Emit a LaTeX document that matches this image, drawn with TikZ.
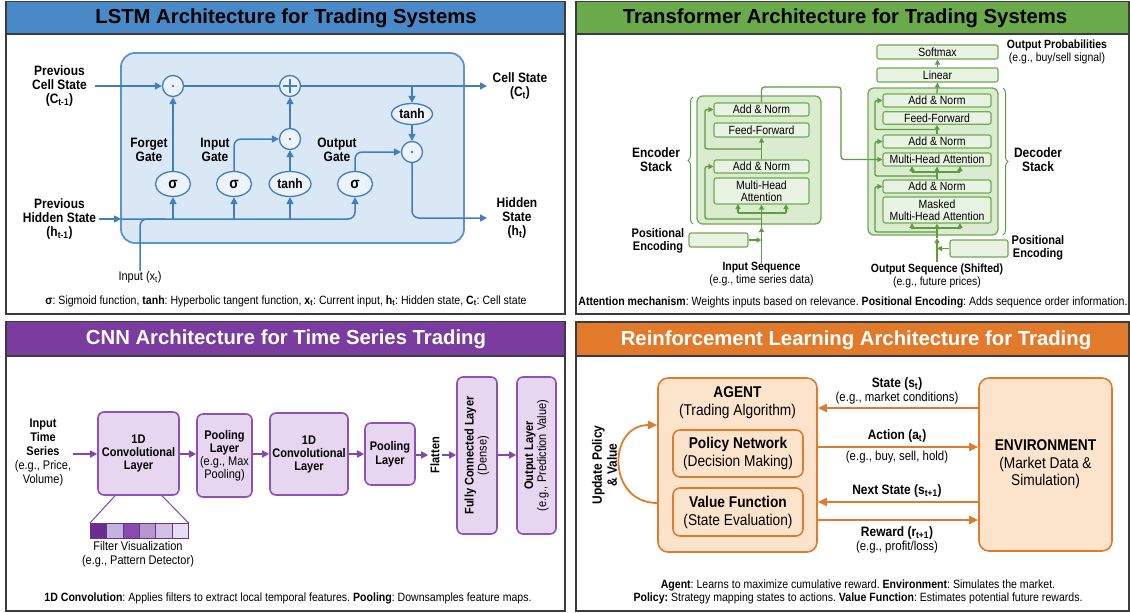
\documentclass[tikz,border=0pt]{standalone}
\usepackage{fontspec}
\setmainfont{Liberation Sans}[FakeStretch=0.88]
\newfontfamily\titlefont{Liberation Sans}
\usetikzlibrary{arrows.meta,decorations.pathreplacing,shapes.geometric,calc}
\definecolor{panelborder}{HTML}{3C3C3C}
\definecolor{lbtitle}{HTML}{4A89C8}
\definecolor{lbline}{HTML}{3F7EC0}
\definecolor{lbfill}{HTML}{DAE8F6}
\definecolor{lbedge}{HTML}{5B95D0}
\definecolor{tgtitle}{HTML}{6BAA4B}
\definecolor{tgline}{HTML}{5E9C40}
\definecolor{tgfill}{HTML}{DAEBD0}
\definecolor{tgedge}{HTML}{70AA52}
\definecolor{cptitle}{HTML}{7A3C9E}
\definecolor{cpline}{HTML}{8545AC}
\definecolor{cpfill}{HTML}{E6D6F0}
\definecolor{cpedge}{HTML}{8E52B4}
\definecolor{ortitle}{HTML}{E27A2C}
\definecolor{orline}{HTML}{E07B2C}
\definecolor{orfill}{HTML}{FCE3CC}
\definecolor{fa}{HTML}{6B2D93}
\definecolor{fb}{HTML}{C4B2E2}
\definecolor{fc}{HTML}{8A4BB0}
\definecolor{fd}{HTML}{B796D0}
\definecolor{fe}{HTML}{D3C0E8}
\definecolor{ff}{HTML}{E8DDF3}
\newcommand\fsz[2]{\fontsize{#1}{#2}\selectfont}
\frenchspacing
\begin{document}
\begin{tikzpicture}[x=1pt,y=-1pt,
  txt/.style={inner sep=0pt, align=center},
  panel/.style={draw=panelborder, line width=1.4pt},
  ptitle/.style={inner sep=0pt, font=\titlefont\fsz{20.3}{24}\bfseries},
  foot/.style={txt, font=\fsz{12}{13}},
  % LSTM
  lline/.style={draw=lbline, line width=1.5pt},
  larr/.style={lline, -{Triangle[length=7pt,width=7pt]}},
  lop/.style={circle, draw=lbline, line width=1.3pt, fill=lbfill!50!white, minimum size=21pt, inner sep=0pt},
  lell/.style={ellipse, draw=lbline, line width=1.3pt, fill=lbfill!50!white, minimum height=25pt, inner sep=0pt},
  llab/.style={txt, font=\fsz{13.6}{14}\bfseries},
  % Transformer
  tline/.style={draw=tgline, line width=1.3pt},
  tarr/.style={tline, -{Triangle[length=5pt,width=5pt]}},
  tb/.style={draw=tgedge, fill=tgfill!60!white, line width=1.1pt, rounded corners=2pt, inner sep=0pt, align=center, font=\fsz{11.9}{12}},
  tout/.style={draw=tgedge, fill=tgfill, line width=1.3pt, rounded corners=6pt, inner sep=0pt},
  tlab/.style={txt, font=\fsz{11.9}{13}},
  % CNN
  cline/.style={draw=cpline, line width=1.5pt},
  carr/.style={cline, -{Triangle[length=7pt,width=7pt]}},
  cb/.style={draw=cpedge, fill=cpfill, line width=1.6pt, rounded corners=6pt, inner sep=0pt, align=center, font=\fsz{12.5}{13}},
  clab/.style={txt, font=\fsz{12.5}{14}},
  % RL
  oline/.style={draw=orline, line width=1.8pt},
  oarr/.style={oline, -{Triangle[length=9pt,width=8pt]}},
  ob/.style={draw=orline, fill=orfill, line width=1.6pt, rounded corners=10pt, inner sep=0pt, align=center, font=\fsz{15.6}{18}},
  olab/.style={txt, font=\fsz{13}{14}},
]
\useasboundingbox (0,0) rectangle (1130,613);
\fill[white] (0,0) rectangle (1130,613);

% ================= panels =================
\fill[lbtitle] (6,1.5) rectangle (565,34);
\draw[panel] (6,1.5) rectangle (565,314);
\draw[panel] (6,34) -- (565,34);
\node[ptitle] (t1) at (286,18) {LSTM Architecture for Trading Systems};

\fill[tgtitle] (576,1.5) rectangle (1129,34);
\draw[panel] (576,1.5) rectangle (1129,314);
\draw[panel] (576,34) -- (1129,34);
\node[ptitle] (t2) at (845,18) {Transformer Architecture for Trading Systems};

\fill[cptitle] (6,321.5) rectangle (565,356);
\draw[panel] (6,321.5) rectangle (565,611);
\draw[panel] (6,356) -- (565,356);
\node[ptitle, text=white] (t3) at (286,339.5) {CNN Architecture for Time Series Trading};

\fill[ortitle] (576,322) rectangle (1129,356);
\draw[panel] (576,322) rectangle (1129,611);
\draw[panel] (576,356) -- (1129,356);
\node[ptitle, text=white] (t4) at (856,340) {Reinforcement Learning Architecture for Trading};

% ================= LSTM =================
\node[draw=lbedge, fill=lbfill, line width=1.8pt, rounded corners=14pt, minimum width=343pt, minimum height=190pt, inner sep=0pt] (cell) at (292.5,148) {};

\node[lop] (m1) at (173,86) {};
\node[lop] (add) at (290,86) {};
\node[lop] (m2) at (290,139) {};
\node[lop] (m3) at (412,152) {};
\node[lell, minimum width=35pt, font=\fsz{15.5}{15}\bfseries] (sf) at (173,184) {σ};
\node[lell, minimum width=35pt, font=\fsz{15.5}{15}\bfseries] (si) at (234,184) {σ};
\node[lell, minimum width=42pt, font=\fsz{13.6}{14}\bfseries] (th1) at (290,184) {tanh};
\node[lell, minimum width=35pt, font=\fsz{15.5}{15}\bfseries] (so) at (355,184) {σ};
\node[lell, minimum width=41pt, minimum height=21pt, font=\fsz{13.6}{14}\bfseries] (th2) at (412,114) {tanh};

\coordinate (cin) at (95,86);
\coordinate (cout) at (487,86);
\coordinate (tap) at (412,86);
\coordinate (hin) at (99,219);
\coordinate (hjoin) at (121,219);
\coordinate (hout) at (487,218);

\draw[larr] (cin) -- (m1);
\draw[lline] (m1) -- (add);
\draw[larr] (add) -- (cout);
\draw[larr] (tap) -- (th2.north);
\draw[larr] (th2.south) -- (m3.north);
\draw[larr, rounded corners=7pt] (m3.south) -- (412,218) -- (hout);
\draw[larr] (sf.north) -- (m1.south);
\draw[larr, rounded corners=7pt] (si.north) -- (234,139) -- (m2.west);
\draw[larr] (th1.north) -- (m2.south);
\draw[larr] (m2.north) -- (add.south);
\draw[larr, rounded corners=7pt] (so.north) -- (355,152) -- (m3.west);
\draw[larr] (hin) -- (hjoin);
\draw[larr, rounded corners=7pt] (hjoin) -- (so.south |- hjoin) -- (so.south);
\draw[larr] (sf.south |- hjoin) -- (sf.south);
\draw[larr] (si.south |- hjoin) -- (si.south);
\draw[larr] (th1.south |- hjoin) -- (th1.south);
\node[txt, font=\fsz{12.5}{13}] (xlbl) at (140,277) {Input (x\textsubscript{t})};
\draw[lline, rounded corners=7pt] (xlbl.north) -- (140,219) -- (165,219);

\fill[lbline] (m1) circle (1.3pt);
\fill[lbline] (m2) circle (1.3pt);
\fill[lbline] (m3) circle (1.3pt);
\draw[lline, line width=1.3pt] ($(add)+(-7,0)$) -- ($(add)+(7,0)$);
\draw[lline, line width=1.3pt] ($(add)+(0,-7)$) -- ($(add)+(0,7)$);

\node[llab] (lpc) at (59.5,86) {Previous\\Cell State\\(C\textsubscript{t-1})};
\node[llab] (lph) at (59.5,219) {Previous\\Hidden State\\(h\textsubscript{t-1})};
\node[llab] (lcs) at (520,86) {Cell State\\(C\textsubscript{t})};
\node[llab] (lhs) at (517,218) {Hidden\\State\\(h\textsubscript{t})};
\node[llab] (lfg) at (149,150) {Forget\\Gate};
\node[llab] (lig) at (215,150) {Input\\Gate};
\node[llab] (log) at (337,150) {Output\\Gate};
\node[foot] (lfoot) at (286,301) {\textbf{σ}: Sigmoid function, \textbf{tanh}: Hyperbolic tangent function, \textbf{x\textsubscript{t}}: Current input, \textbf{h\textsubscript{t}}: Hidden state, \textbf{C\textsubscript{t}}: Cell state};

% ================= Transformer =================
% Encoder
\node[tout, minimum width=124pt, minimum height=128pt] (encbox) at (759,160) {};
\node[tb, minimum width=95pt, minimum height=13pt] (eAN1) at (761.5,109.5) {Add \& Norm};
\node[tb, minimum width=95pt, minimum height=14pt] (eFF) at (761.5,130) {Feed-Forward};
\node[tb, minimum width=95pt, minimum height=13pt] (eAN2) at (761.5,166.5) {Add \& Norm};
\node[tb, minimum width=95pt, minimum height=26pt] (eMHA) at (761.5,191) {Multi-Head\\Attention};
\node[tb, minimum width=59pt, minimum height=14pt] (ePE) at (718.5,240) {};
\coordinate (ein) at (761.5,263);

\draw[tarr] (ein) -- (761.5,227);
\draw[tline] (761.5,227) -- (761.5,213);
\draw[tline] (738,213) -- (786,213);
\draw[tarr] (738,213) -- (738,204);
\draw[tarr] (761.5,213) -- (eMHA.south);
\draw[tarr] (786,213) -- (786,204);
\draw[tarr, rounded corners=2pt] (761.5,219) -- (705,219) -- (705,166.5) -- (eAN2.west);
\draw[tarr] (eAN2.north) -- (eFF.south);
\draw[tarr, rounded corners=2pt] (761.5,149) -- (705,149) -- (705,109.5) -- (eAN1.west);
\draw[tarr] (ePE.east) -- (761.5,240);
\draw[tline, line width=1pt, decorate, decoration={brace, amplitude=5pt}] (693,224) -- (693,97);

% Decoder
\node[tb, minimum width=121pt, minimum height=14pt] (dSoft) at (937.5,52) {Softmax};
\node[tb, minimum width=121pt, minimum height=14pt] (dLin) at (937.5,75) {Linear};
\node[tout, minimum width=130pt, minimum height=147pt] (decbox) at (933,161.5) {};
\node[tb, minimum width=108pt, minimum height=13pt] (dAN1) at (937,100.5) {Add \& Norm};
\node[tb, minimum width=108pt, minimum height=12.5pt] (dFF) at (937,118) {Feed-Forward};
\node[tb, minimum width=108pt, minimum height=13pt] (dAN2) at (937,141.5) {Add \& Norm};
\node[tb, minimum width=108pt, minimum height=13pt] (dMHA) at (937,159.5) {Multi-Head Attention};
\node[tb, minimum width=108pt, minimum height=13pt] (dAN3) at (937,186.5) {Add \& Norm};
\node[tb, minimum width=108pt, minimum height=26pt] (dMMHA) at (937,210) {Masked\\Multi-Head Attention};
\node[tb, minimum width=58pt, minimum height=17pt] (dPE) at (979,248.5) {};
\coordinate (din) at (937,262);

\draw[tarr] (din) -- (937,238);
\draw[tline] (937,238) -- (937,228);
\draw[tline] (912,228) -- (960,228);
\draw[tarr] (912,228) -- (912,223);
\draw[tarr] (937,228) -- (dMMHA.south);
\draw[tarr] (960,228) -- (960,223);
\draw[tarr] (dPE.west) -- (937,248.5);
\draw[tarr, rounded corners=2pt] (937,232) -- (875,232) -- (875,186.5) -- (dAN3.west);
\draw[tline] (dAN3.north) -- (937,172);
\draw[tline] (912,172) -- (960,172);
\draw[tarr] (912,172) -- (912,166);
\draw[tarr] (937,172) -- (dMHA.south);
\draw[tarr] (960,172) -- (960,166);
\draw[tarr, rounded corners=2pt] (937,176) -- (875,176) -- (875,141.5) -- (dAN2.west);
\draw[tarr] (dAN2.north) -- (dFF.south);
\draw[tarr, rounded corners=2pt] (937,129.5) -- (875,129.5) -- (875,100.5) -- (dAN1.west);
\draw[tarr] (dAN1.north) -- (dLin.south);
\draw[tarr] (dLin.north) -- (dSoft.south);
\draw[tarr, rounded corners=3pt] (eAN1.north) -- (761.5,87) -- (841,87) -- (841,159.5) -- (dMHA.west);
\draw[tline, line width=1pt, decorate, decoration={brace, amplitude=5pt}] (1003,88) -- (1003,235);

\node[txt, font=\fsz{13.6}{14}\bfseries] (lenc) at (656,160) {Encoder\\Stack};
\node[txt, font=\fsz{12.5}{13}\bfseries] (lpe1) at (658,240.5) {Positional\\Encoding};
\node[txt, font=\fsz{13.6}{14}\bfseries] (ldec) at (1038,160) {Decoder\\Stack};
\node[txt, font=\fsz{12.5}{13}\bfseries] (lpe2) at (1038,247.5) {Positional\\Encoding};
\node[tlab] (lin) at (761.5,274.5) {\textbf{Input Sequence}\\(e.g., time series data)};
\node[tlab] (lout) at (937,276) {\textbf{Output Sequence (Shifted)}\\(e.g., future prices)};
\node[tlab] (lprob) at (1057,52) {\textbf{Output Probabilities}\\(e.g., buy/sell signal)};
\node[foot] (tfoot) at (853,302) {\textbf{Attention mechanism}: Weights inputs based on relevance. \textbf{Positional Encoding}: Adds sequence order information.};

% ================= CNN =================
\node[cb, minimum width=81pt, minimum height=83pt, font=\fsz{12.5}{13}\bfseries] (conv1) at (138.5,453.5) {1D\\Convolutional\\Layer};
\node[cb, minimum width=55pt, minimum height=83pt] (pool1) at (224.5,455.5) {\textbf{Pooling}\\\textbf{Layer}\\(e.g., Max\\Pooling)};
\node[cb, minimum width=78pt, minimum height=82pt, font=\fsz{12.5}{13}\bfseries] (conv2) at (309,454) {1D\\Convolutional\\Layer};
\node[cb, minimum width=50pt, minimum height=62pt, font=\fsz{12.5}{14}\bfseries] (pool2) at (390,454) {Pooling\\Layer};
\node[cb, minimum width=40pt, minimum height=157pt] (fcl) at (477,455.5) {};
\node[txt, rotate=90, font=\fsz{12.5}{13}] (fctxt) at (fcl.center) {\textbf{Fully Connected Layer}\\(Dense)};
\node[cb, minimum width=39pt, minimum height=157pt] (outl) at (536.5,455.5) {};
\node[txt, rotate=90, font=\fsz{12.5}{13}] (outtxt) at (outl.center) {\textbf{Output Layer}\\(e.g., Prediction Value)};
\node[txt, rotate=90, inner sep=2pt, font=\fsz{12.5}{13}\bfseries] (flat) at (435,455) {Flatten};
\node[clab] (lints) at (43,452.5) {\textbf{Input}\\\textbf{Time}\\\textbf{Series}\\(e.g., Price,\\Volume)};
\coordinate (cin2) at (73,454);
\draw[carr] (cin2) -- (conv1.west |- cin2);
\draw[carr] (conv1.east |- cin2) -- (pool1.west |- cin2);
\draw[carr] (pool1.east |- cin2) -- (conv2.west |- cin2);
\draw[carr] (conv2.east |- cin2) -- (pool2.west |- cin2);
\draw[carr] (pool2.east |- 0,455) -- (flat.north);
\draw[carr] (flat.south) -- (fcl.west |- 0,455);
\draw[carr] (fcl.east |- 0,455) -- (outl.west |- 0,455);

% filter visualization
\foreach \c [count=\i from 0] in {fa,fb,fc,fd,fe,ff} {
  \node[draw=cpedge!70!black, line width=0.6pt, fill=\c, minimum width=16.33pt, minimum height=15pt, inner sep=0pt, anchor=north west] (fcell\i) at (90+16.33*\i,523) {};
}
\draw[cpline, line width=1pt] ($(conv1.south)+(-23.5,0)$) -- (fcell0.north west);
\draw[cpline, line width=1pt] ($(conv1.south)+(23.5,0)$) -- (fcell5.north east);
\node[clab, font=\fsz{12.5}{13.5}] (lfilt) at (138,554.5) {Filter Visualization\\(e.g., Pattern Detector)};
\node[foot] (cfoot) at (288,598) {\textbf{1D Convolution}: Applies filters to extract local temporal features. \textbf{Pooling}: Downsamples feature maps.};

% ================= RL =================
\node[ob, minimum width=159pt, minimum height=174pt] (agent) at (737.5,465) {};
\node[txt, font=\fsz{15.6}{18}] (agtxt) at (737.5,403) {\textbf{AGENT}\\(Trading Algorithm)};
\node[ob, rounded corners=7pt, minimum width=130pt, minimum height=47pt] (policy) at (738,453.5) {\textbf{Policy Network}\\(Decision Making)};
\node[ob, rounded corners=7pt, minimum width=130pt, minimum height=48pt] (value) at (738,512) {\textbf{Value Function}\\(State Evaluation)};
\node[ob, minimum width=133pt, minimum height=173pt, font=\fsz{15.6}{17.5}] (env) at (1045.5,464.5) {\textbf{ENVIRONMENT}\\(Market Data \&\\Simulation)};

\draw[oarr] (env.west |- 0,408) -- (agent.east |- 0,408);
\draw[oarr] (agent.east |- 0,447) -- (env.west |- 0,447);
\draw[oarr] (env.west |- 0,502) -- (agent.east |- 0,502);
\draw[oarr] (agent.east |- 0,520) -- (env.west |- 0,520);
\draw[oarr] (agent.west |- 0,503) .. controls (607,503) and (607,425) .. (agent.west |- 0,425);

\node[olab] (lst) at (897,390.5) {\textbf{\fsz{13.6}{14}State (s\textsubscript{t})}\\(e.g., market conditions)};
\node[olab] (lact) at (897,436) {\textbf{\fsz{13.6}{14}Action (a\textsubscript{t})}};
\node[olab] (lact2) at (897,457) {(e.g., buy, sell, hold)};
\node[olab] (lnx) at (897,491) {\textbf{\fsz{13.6}{14}Next State (s\textsubscript{t+1})}};
\node[olab] (lrw) at (897,539.5) {\textbf{\fsz{13.6}{14}Reward (r\textsubscript{t+1})}\\(e.g., profit/loss)};
\node[txt, rotate=90, font=\fsz{13.6}{15}\bfseries] (lupd) at (604.5,465) {Update Policy\\\& Value};
\node[foot] (rfoot) at (858,591.5) {\textbf{Agent}: Learns to maximize cumulative reward. \textbf{Environment}: Simulates the market.\\\textbf{Policy:} Strategy mapping states to actions. \textbf{Value Function}: Estimates potential future rewards.};

\end{tikzpicture}
\end{document}
